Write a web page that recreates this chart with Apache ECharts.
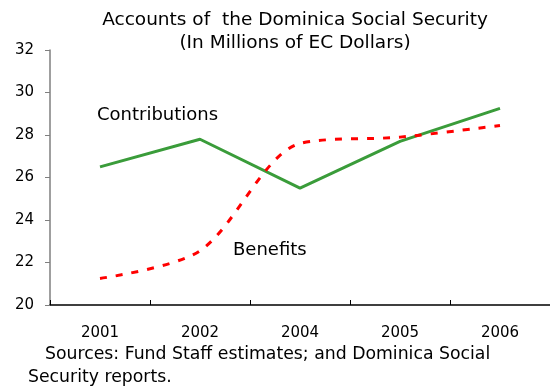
<!DOCTYPE html>
<html>
<head>
<meta charset="utf-8">
<script src="https://cdn.jsdelivr.net/npm/echarts@6/dist/echarts.min.js"></script>
<style>html,body{margin:0;padding:0;background:#fff;}#c{width:550px;height:391px;}</style>
</head>
<body>
<div id="c"></div>
<script>
const categories = ['2001', '2002', '2004', '2005', '2006'];
const contributions = [26.5, 27.8, 25.5, 27.7, 29.25];
const benefits = [21.25, 22.55, 27.6, 27.9, 28.45];
const yTicks = { min: 20, max: 32, interval: 2 };
const titleLines = ['Accounts of  the Dominica Social Security', '(In Millions of EC Dollars)'];
const sourceLines = ['Sources: Fund Staff estimates; and Dominica Social', 'Security reports.'];
const seriesNames = ['Contributions', 'Benefits'];

const FONT = 'DejaVu Sans';
const chart = echarts.init(document.getElementById('c'), null, { renderer: 'canvas' });
function txt(s, x, y, size, align) {
  return { type: 'text', x: x, y: y, style: { text: s, font: size + 'px "DejaVu Sans"', fill: '#000', textAlign: align, textVerticalAlign: 'middle' } };
}
chart.setOption({
  animation: false,
  backgroundColor: '#ffffff',
  textStyle: { fontFamily: FONT },
  grid: { left: 50, top: 50, width: 505, bottom: 86, containLabel: false },
  xAxis: {
    type: 'category',
    data: categories,
    boundaryGap: true,
    axisLine: { lineStyle: { color: '#000', width: 1.5 } },
    axisTick: { show: true, inside: true, length: 5, lineStyle: { color: '#000' } },
    axisLabel: { color: '#000', fontSize: 15, fontFamily: FONT, margin: 21 },
    splitLine: { show: false }
  },
  yAxis: {
    type: 'value',
    min: yTicks.min, max: yTicks.max, interval: yTicks.interval,
    axisLine: { show: true, lineStyle: { color: '#7f7f7f', width: 1.5 } },
    axisTick: { show: true, length: 5, lineStyle: { color: '#7f7f7f' } },
    axisLabel: { color: '#000', fontSize: 15, fontFamily: FONT, margin: 16 },
    splitLine: { show: false }
  },
  series: [
    {
      name: seriesNames[0], type: 'line', data: contributions,
      symbol: 'none', smooth: false,
      lineStyle: { color: '#3a9c3a', width: 3 }
    },
    {
      name: seriesNames[1], type: 'line', data: benefits,
      symbol: 'none', smooth: 0.3,
      lineStyle: { color: '#ff0000', width: 3, type: [7, 9] }
    }
  ],
  graphic: [
    txt(titleLines[0], 295, 20, 18.5, 'center'),
    txt(titleLines[1], 295, 43, 18.5, 'center'),
    txt(seriesNames[0], 97, 115, 18, 'left'),
    txt(seriesNames[1], 233, 250, 18, 'left'),
    txt(sourceLines[0], 45, 355, 17.3, 'left'),
    txt(sourceLines[1], 28, 378, 17.3, 'left')
  ]
});
</script>
</body>
</html>
